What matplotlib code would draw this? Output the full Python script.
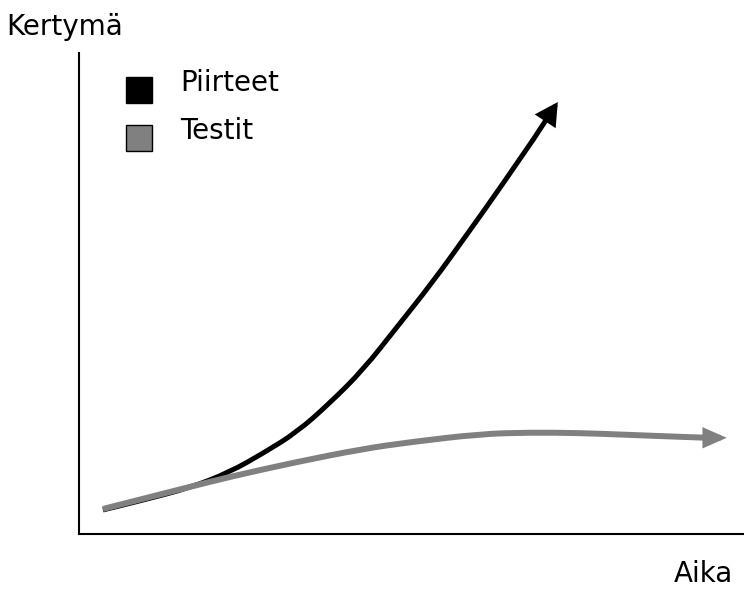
import matplotlib.pyplot as plt
from matplotlib.path import Path
from matplotlib.patches import PathPatch, Rectangle

plt.rcParams['font.family'] = ['DejaVu Sans']

# Cumulative curves (time, accumulated amount)
piirteet_t = [3.6, 9.2, 16.7, 22.7, 27.7, 32.8, 37.7, 42.7, 47.8, 53.2, 58.3, 63.3, 68.3]
piirteet_y = [5.0, 6.9, 9.6, 12.9, 16.8, 21.2, 27.2, 34.1, 43.0, 52.4, 62.2, 71.9, 82.0]
piirteet_tip = (72.0, 89.8)

testit_t = [3.6, 10.7, 16.7, 22.7, 32.8, 42.7, 49.8, 60.3, 67.8, 75.3, 82.9, 90.4, 94.6]
testit_y = [5.2, 7.7, 9.8, 11.9, 15.0, 17.7, 19.1, 20.8, 21.1, 21.0, 20.6, 20.2, 20.0]
testit_tip = (97.4, 20.0)

labels = ["Piirteet", "Testit"]
colors = ["black", "#808080"]
widths = [3.6, 4.3]


def smooth_curve(xs, ys):
    # quadratic B-spline style path: the read points act as control points
    pts = list(zip(xs, ys))
    verts = [pts[0]]
    codes = [Path.MOVETO]
    mids = [((a[0] + b[0]) / 2, (a[1] + b[1]) / 2) for a, b in zip(pts[:-1], pts[1:])]
    verts.append(mids[0])
    codes.append(Path.LINETO)
    for i in range(1, len(pts) - 2):
        verts += [pts[i], mids[i]]
        codes += [Path.CURVE3, Path.CURVE3]
    verts += [pts[-2], pts[-1]]
    codes += [Path.CURVE3, Path.CURVE3]
    return Path(verts, codes)


fig = plt.figure(figsize=(7.44, 5.89), dpi=100)
ax = fig.add_axes([79/744, 55/589, 665/744, 481/589])
ax.set_xlim(0, 100)
ax.set_ylim(0, 100)

series = [(piirteet_t, piirteet_y, piirteet_tip), (testit_t, testit_y, testit_tip)]
heads = ['-|>,head_length=0.55,head_width=0.3', '-|>,head_length=0.5,head_width=0.22']
for (t, y, tip), c, w, hs in zip(series, colors, widths, heads):
    ax.add_patch(PathPatch(smooth_curve(t, y), facecolor='none', edgecolor=c,
                           lw=w, capstyle='butt', joinstyle='round'))
    ax.annotate('', xy=tip, xytext=(t[-1], y[-1]),
                arrowprops=dict(arrowstyle=hs, mutation_scale=20, color=c, lw=w,
                                shrinkA=0, shrinkB=0, joinstyle='miter'))

for s in ['top', 'right']:
    ax.spines[s].set_visible(False)
for s in ['left', 'bottom']:
    ax.spines[s].set_linewidth(1.5)
ax.set_xticks([])
ax.set_yticks([])

# legend: squares with labels
for i, (lab, c) in enumerate(zip(labels, colors)):
    y0 = 0.896 - i * 0.1
    ax.add_patch(Rectangle((0.0707, y0), 0.039, 0.054, transform=ax.transAxes,
                           facecolor=c, edgecolor='black', lw=1, clip_on=False))
    ax.text(0.152, 0.921 - i * 0.1, lab, transform=ax.transAxes, fontsize=20,
            ha='left', va='baseline')

fig.text(6/744, 1 - 35/589, "Kertymä", fontsize=20, ha='left', va='baseline')
fig.text(733/744, 1 - 582/589, "Aika", fontsize=20, ha='right', va='baseline')

fig.savefig("out.png", dpi=100)
